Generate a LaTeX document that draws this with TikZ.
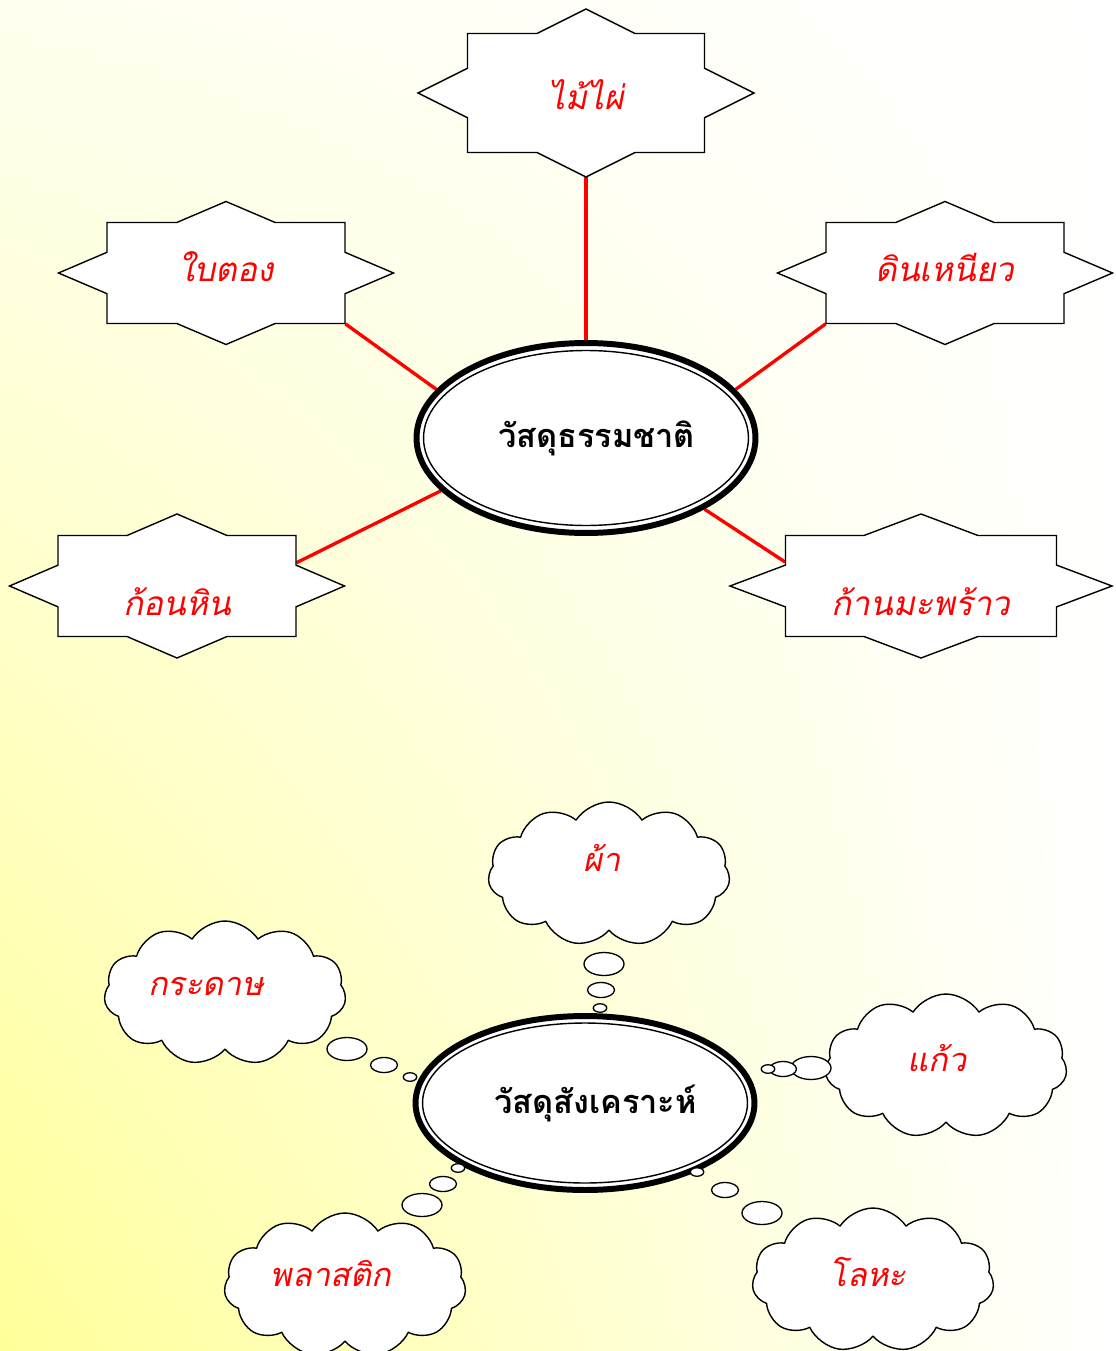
\documentclass[tikz,border=0pt]{standalone}
\usepackage{fontspec}
\usepackage{tikz}
\usetikzlibrary{calc}
\usetikzlibrary{shadings}
\usetikzlibrary{shapes.geometric}
\usetikzlibrary{shapes.symbols}
\newfontfamily\thaifont[Script=Thai]{Loma}
\newfontfamily\thaislant[Script=Thai,FakeSlant=0.2]{Loma}
\definecolor{paleyellow}{HTML}{FFFFF0}
\definecolor{deepyellow}{HTML}{FFFF99}
\pgfdeclarelayer{back}
\pgfdeclarelayer{links}
\pgfsetlayers{back,links,main}

\tikzset{
  sealline/.style={draw=black, fill=white, line width=0.8pt, line join=miter},
  sealbox/.style={inner sep=0pt},
  sealtext/.style={inner sep=0pt, text=red, font=\thaislant\fontsize{19}{22}\selectfont},
  hub/.style 2 args={ellipse, draw, fill=white, line width=3.4pt, inner sep=0pt,
    minimum width=6.78cm, minimum height=#1,
    font=\thaifont\bfseries\fontsize{18.5}{22}\selectfont,
    path picture={\draw[line width=0.8pt] (path picture bounding box.center)
      ellipse [x radius=3.25cm, y radius=#2];}},
  link/.style={red, line width=1.9pt},
  puff/.style={cloud, cloud puffs=11, cloud puff arc=115, aspect=1.68, draw, fill=white,
    line width=0.8pt, minimum width=4.84cm, minimum height=2.88cm},
  cloudtext/.style={inner sep=0pt, text=red, font=\thaislant\fontsize{18.5}{22}\selectfont},
  bubble/.style={ellipse, draw, fill=white, line width=0.75pt, inner sep=0pt},
  bubbleL/.style={bubble, minimum width=0.8cm, minimum height=0.46cm},
  bubbleM/.style={bubble, minimum width=0.54cm, minimum height=0.3cm},
  bubbleS/.style={bubble, minimum width=0.27cm, minimum height=0.17cm}
}

% #1 name, #2 centre, #3 #4 half box, #5 #6 half tips, #7 text, #8 text shift
\newcommand{\sealnode}[8]{%
  \pgfmathsetmacro{\nx}{#5*(1-#4/#6)}%
  \pgfmathsetmacro{\ny}{#6*(1-#3/#5)}%
  \draw[sealline, shift={(#2)}] (0,-#6) -- (\nx,-#4) -- (#3,-#4) -- (#3,-\ny) -- (#5,0)
    -- (#3,\ny) -- (#3,#4) -- (\nx,#4) -- (0,#6) -- (-\nx,#4) -- (-#3,#4) -- (-#3,\ny)
    -- (-#5,0) -- (-#3,-\ny) -- (-#3,-#4) -- (-\nx,-#4) -- cycle;
  \node[sealbox, minimum width=2*#3*0.02cm, minimum height=2*#4*0.02cm] (#1) at (#2) {};
  \node[sealtext] (#1txt) at ($(#1)+(0,#8)$) {#7};
}

\begin{document}
\begin{tikzpicture}[x=0.02cm, y=-0.02cm, line cap=round, line join=round]
  %--- Fond
    \useasboundingbox (0,0) rectangle (1115,1351);
    \begin{pgfonlayer}{back}
      \shade[upper left=paleyellow, upper right=white, lower left=deepyellow, lower right=white]
        (0,0) rectangle (1115,1351);
    \end{pgfonlayer}
  %--- Natural materials
    \node[hub={3.8cm}{1.75cm}] (nat) at (586,438) {\hspace*{0.42cm}วัสดุธรรมชาติ};
    \sealnode{bamboo}{586,93}{118.5}{59.5}{168}{84}{ไม้ไผ่}{2}
    \sealnode{leaf}{226,273}{119}{50.5}{167.5}{71.5}{ใบตอง}{-6}
    \sealnode{clay}{945,273}{119}{50.5}{167.5}{71.5}{ดินเหนียว}{-6}
    \sealnode{rock}{177,586}{119}{50.5}{167.5}{72}{ก้อนหิน}{16}
    \sealnode{stalk}{921,586}{135.5}{50.5}{191}{72}{ก้านมะพร้าว}{16}
    \begin{pgfonlayer}{links}
      \draw[link] (bamboo.south) -- (nat.north);
      \draw[link] (leaf.south east) -- (nat.162);
      \draw[link] (clay.south west) -- (nat.18);
      \draw[link] (rock.11) -- (nat.200);
      \draw[link] (stalk.170) -- (nat.-31);
    \end{pgfonlayer}
  %--- Synthetic materials
    \node[hub={3.48cm}{1.6cm}] (syn) at (585,1103) {\hspace*{0.42cm}วัสดุสังเคราะห์};
    \node[puff] (cloth) at (609,874) {};
    \node[puff] (paper) at (225,993) {};
    \node[puff] (glass) at (946,1066) {};
    \node[puff] (plastic) at (345,1285) {};
    \node[puff] (metal) at (873,1280) {};
    \node[cloudtext] (clothtxt) at (602,858) {ผ้า};
    \node[cloudtext] (papertxt) at (206,986) {กระดาษ};
    \node[cloudtext] (glasstxt) at (937,1058) {แก้ว};
    \node[cloudtext] (plastictxt) at (331,1274) {พลาสติก};
    \node[cloudtext] (metaltxt) at (868,1272) {โลหะ};
  %--- Bubbles
    \node[bubbleL] (clothb1) at (604,964) {};
    \node[bubbleM] (clothb2) at (601,990) {};
    \node[bubbleS] (clothb3) at (600,1008) {};
    \node[bubbleL] (paperb1) at (347,1049) {};
    \node[bubbleM] (paperb2) at (384,1065) {};
    \node[bubbleS] (paperb3) at (410,1077) {};
    \node[bubbleL] (glassb1) at (811,1068) {};
    \node[bubbleM] (glassb2) at (783,1069) {};
    \node[bubbleS] (glassb3) at (768,1069) {};
    \node[bubbleL] (plasticb1) at (422,1205) {};
    \node[bubbleM] (plasticb2) at (443,1184) {};
    \node[bubbleS] (plasticb3) at (458,1168) {};
    \node[bubbleL] (metalb1) at (762,1213) {};
    \node[bubbleM] (metalb2) at (725,1190) {};
    \node[bubbleS] (metalb3) at (697,1172) {};
  %---
\end{tikzpicture}
\end{document}
